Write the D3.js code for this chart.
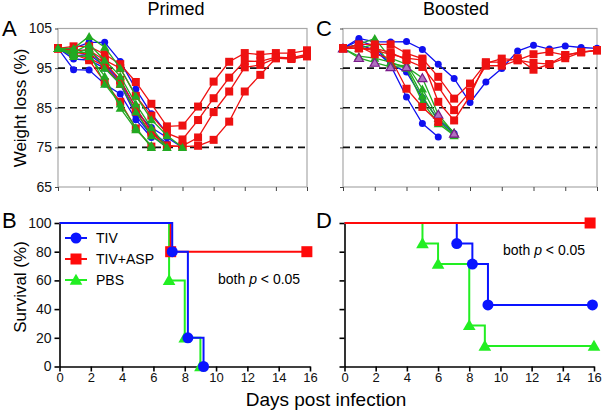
<!DOCTYPE html>
<html>
<head>
<meta charset="utf-8">
<script src="https://cdn.jsdelivr.net/npm/d3@7"></script>
<style>
  body { margin: 0; background: #fff; }
  svg { font-family: "Liberation Sans", Arial, sans-serif; }
</style>
</head>
<body>
<svg id="chart" width="602" height="413"></svg>
<script>
// weight curves (% of starting weight), one array per mouse, index = day
const days = d3.range(0, 17);

const primedTIV = [
  [100, 94.6, 94.5, 91, 88.5, 82, 77.5],
  [100, 97.3, 97, 95, 91, 83, 78, 75],
  [100, 100, 101.5, 101.5, 96.7, 89.7, 83.5, 78.6],
  [100, 99.5, 99.5, 96, 92, 85, 79, 76],
  [100, 98, 98.5, 95.5, 91.5, 84, 80, 77.5, 75]
];
const primedASP = [
  [100, 100.5, 100.5, 98.5, 96, 91.5, 86, 80.3, 80.5, 85.3, 91.6, 96.6, 98.8, 98.4, 98.8, 98.8, 99.5],
  [100, 99.5, 99.5, 97, 95, 88, 83, 78.6, 77, 81.9, 87.4, 92.6, 96.8, 96.7, 97.8, 97.6, 98.5],
  [100, 99, 98.5, 96.5, 92, 85, 79, 75.2, 75.4, 77.5, 83.9, 89.1, 95.2, 95.8, 97.5, 97.3, 98],
  [100, 98.5, 97.5, 95.5, 91, 84, 78.5, 75.5, 75.2, 75.4, 76.9, 81.5, 89.1, 93.3, 97.5, 97.5, 98],
  [100, 98.5, 97, 91.5, 86.5, 79.8, 75.2]
];
const primedPBS = [
  [100, 100, 103, 100.3, 95, 88, 82, 78, 75],
  [100, 99, 101, 97, 93, 86, 80, 75],
  [100, 98, 98, 93, 84.9, 79.5, 75.5],
  [100, 99, 99, 91, 86, 80, 75],
  [100, 98.5, 100, 95, 91, 84, 78, 75]
];

const boostedTIV = [
  [100, 102.5, 101.6, 101.6, 101.7, 99.7, 96, 92.4, 86.3, 91.5, 94.9, 99.3, 100.8, 99.8, 100.6, 100.2, 100],
  [100, 102, 100.5, 95.7, 87.7, 81, 77.6],
  [100, 101, 99.5, 96, 94, 87.5, 82, 78.5]
];
const boostedASP = [
  [100, 101, 101, 101, 98.7, 97.4, 92.8, 87.3, 91.1, 96.2, 97.4, 97, 98.5, 99.1, 98.3, 99.1, 99.5],
  [100, 100, 100, 99, 97, 95.3, 90.3, 84.4, 89, 95.6, 95.6, 97, 96.3, 96, 97.5, 99, 99.5],
  [100, 100, 99.5, 98.5, 97.5, 97, 86.5, 81.8, 88, 96.5, 96.5, 97.5, 94.6, 96, 98.3, 99, 99.5],
  [100, 100.5, 98.5, 97.5, 89.8, 85.2, 81.4]
];
const boostedPBS = [
  [100, 101, 102.5, 97.5, 96, 89.8, 82.3, 78.8],
  [100, 100, 101, 96, 95.5, 88, 81.5, 78.2],
  [100, 98, 97.5, 96.5, 95, 86.5, 81, 78]
];
const boostedPBSmarked = [100, 97.6, 96.4, 95.3, 95.3, 92.5, 83.3, 78.5];

// survival (%), [day, value] at each step
const survPrimedTIV = [[0, 100], [7.2, 80], [8.2, 20], [9.2, 0]];
const survPrimedASP = [[0, 100], [7.1, 80], [15.8, 80]];
const survPrimedPBS = [[0, 100], [7, 60], [8, 20], [9, 0]];
const survBoostTIV = [[0, 100], [7.2, 85.7], [8.2, 71.4], [9.2, 42.9], [15.9, 42.9]];
const survBoostASP = [[0, 100], [15.75, 100]];
const survBoostPBS = [[0, 100], [5, 85.7], [6, 71.4], [8, 28.6], [9, 14.3], [16, 14.3]];

const weightTicks = [65, 75, 85, 95, 105];
const dashedLevels = [75, 85, 95];
const survTicks = [0, 20, 40, 60, 80, 100];
const dayTicks = [0, 2, 4, 6, 8, 10, 12, 14, 16];
const legendNames = ["TIV", "TIV+ASP", "PBS"];

const svg = d3.select("#chart");

const colTop = { blue: "#1010f0", red: "#ee1111", green: "#22aa22" };
const colBot = { blue: "#0a14ff", red: "#ff0a0a", green: "#22ee22" };

const yW = d3.scaleLinear().domain([65, 105]).range([187, 28.5]);
const xA = d3.scaleLinear().domain([0, 16]).range([58, 307]);
const xC = d3.scaleLinear().domain([0, 16]).range([343, 597]);
const yS = d3.scaleLinear().domain([0, 100]).range([366.5, 223]);
const xB = d3.scaleLinear().domain([0, 16]).range([59.5, 310]);
const xD = d3.scaleLinear().domain([0, 16]).range([344.5, 594]);

function marker(g, type, x, y, size, fill, stroke) {
  if (type === "circle") {
    g.append("circle").attr("cx", x).attr("cy", y).attr("r", size / 2).attr("fill", fill);
  } else if (type === "square") {
    g.append("rect").attr("x", x - size / 2).attr("y", y - size / 2)
      .attr("width", size).attr("height", size).attr("fill", fill);
  } else {
    const s = size * 1.15;
    const sym = d3.symbol().type(d3.symbolTriangle).size(s * s * 0.433);
    g.append("path").attr("transform", `translate(${x},${y + 1})`).attr("d", sym())
      .attr("fill", fill).attr("stroke", stroke || "none").attr("stroke-width", 1.2);
  }
}

function weightPanel(x, showLabels, groups) {
  const g = svg.append("g");
  g.append("rect").attr("x", x(0)).attr("y", yW(105))
    .attr("width", x(16) - x(0)).attr("height", yW(65) - yW(105))
    .attr("fill", "none").attr("stroke", "#a8a8a8").attr("stroke-width", 1.2);

  g.selectAll(".dash").data(dashedLevels).join("line")
    .attr("x1", x(0)).attr("x2", x(16))
    .attr("y1", d => yW(d)).attr("y2", d => yW(d))
    .attr("stroke", "#111").attr("stroke-width", 1.6).attr("stroke-dasharray", "7,5");

  const xAxis = g.append("g").attr("transform", `translate(0,${yW(65)})`)
    .call(d3.axisBottom(x).tickValues(dayTicks).tickSize(4).tickFormat(""));
  xAxis.select(".domain").remove();
  xAxis.selectAll("line").attr("stroke", "#444");

  const yAxis = g.append("g").attr("transform", `translate(${x(0)},0)`)
    .call(d3.axisLeft(yW).tickValues(weightTicks).tickSize(3).tickFormat(showLabels ? d3.format("d") : ""));
  yAxis.select(".domain").remove();
  yAxis.selectAll("line").attr("stroke", "#444");
  yAxis.selectAll("text").attr("font-size", 14).attr("fill", "#111")
    .attr("font-family", "Liberation Sans, Arial, sans-serif");

  const line = d3.line().x((d, i) => x(i)).y(d => yW(d));
  groups.forEach(gr => {
    gr.data.forEach(series => {
      g.append("path").attr("d", line(series)).attr("fill", "none")
        .attr("stroke", gr.color).attr("stroke-width", 1.3);
      series.forEach((v, i) => marker(g, gr.type, x(i), yW(v), gr.size, gr.fill || gr.color, gr.stroke));
    });
  });
}

weightPanel(xA, true, [
  { data: primedTIV, color: colTop.blue, type: "circle", size: 7 },
  { data: primedASP, color: colTop.red, type: "square", size: 8 },
  { data: primedPBS, color: colTop.green, type: "triangle", size: 8 }
]);
weightPanel(xC, false, [
  { data: boostedTIV, color: colTop.blue, type: "circle", size: 7 },
  { data: boostedPBS, color: colTop.green, type: "triangle", size: 8 },
  { data: [boostedPBSmarked], color: colTop.green, type: "triangle", size: 8, fill: "#b070c0", stroke: "#7a1a8a" },
  { data: boostedASP, color: colTop.red, type: "square", size: 8 }
]);

function survivalPanel(x, showLabels, groups) {
  const g = svg.append("g");
  const xAxis = g.append("g").attr("transform", `translate(0,${yS(0)})`)
    .call(d3.axisBottom(x).tickValues(dayTicks).tickSize(5).tickSizeOuter(0));
  xAxis.selectAll("text").attr("font-size", 13).attr("fill", "#111")
    .attr("font-family", "Liberation Sans, Arial, sans-serif").attr("dy", "0.6em");
  xAxis.selectAll("line, path").attr("stroke", "#000").attr("stroke-width", 1.6);

  const yAxis = g.append("g").attr("transform", `translate(${x(0)},0)`)
    .call(d3.axisLeft(yS).tickValues(survTicks).tickSize(5).tickSizeOuter(0)
      .tickFormat(showLabels ? d3.format("d") : ""));
  yAxis.selectAll("text").attr("font-size", 14).attr("fill", "#111")
    .attr("font-family", "Liberation Sans, Arial, sans-serif");
  yAxis.selectAll("line, path").attr("stroke", "#000").attr("stroke-width", 1.6);

  const line = d3.line().x(d => x(d[0])).y(d => yS(d[1])).curve(d3.curveStepAfter);
  groups.forEach(gr => {
    g.append("path").attr("d", line(gr.data)).attr("fill", "none")
      .attr("stroke", gr.color).attr("stroke-width", 2);
  });
  groups.forEach(gr => {
    gr.data.slice(1).forEach(d => marker(g, gr.type, x(d[0]), yS(d[1]), gr.size, gr.color));
  });
}

survivalPanel(xB, true, [
  { data: survPrimedPBS, color: colBot.green, type: "triangle", size: 11 },
  { data: survPrimedASP, color: colBot.red, type: "square", size: 11 },
  { data: survPrimedTIV, color: colBot.blue, type: "circle", size: 11 }
]);
survivalPanel(xD, false, [
  { data: survBoostPBS, color: colBot.green, type: "triangle", size: 11 },
  { data: survBoostTIV, color: colBot.blue, type: "circle", size: 11 },
  { data: survBoostASP, color: colBot.red, type: "square", size: 11 }
]);

// legend in panel B
const legend = svg.append("g");
const legTypes = ["circle", "square", "triangle"];
const legCols = [colBot.blue, colBot.red, colBot.green];
legendNames.forEach((name, i) => {
  const y = 238 + i * 21;
  legend.append("line").attr("x1", 65).attr("x2", 87).attr("y1", y).attr("y2", y)
    .attr("stroke", legCols[i]).attr("stroke-width", 2);
  marker(legend, legTypes[i], 76, y, 11, legCols[i]);
  legend.append("text").attr("x", 96).attr("y", y + 5).attr("font-size", 14).text(name);
});

function pText(x, y) {
  const t = svg.append("text").attr("x", x).attr("y", y).attr("font-size", 14);
  t.append("tspan").text("both ");
  t.append("tspan").attr("font-style", "italic").text("p");
  t.append("tspan").text(" < 0.05");
}
pText(218, 284);
pText(503, 255);

// titles and labels
svg.append("text").attr("x", 176).attr("y", 15).attr("text-anchor", "middle")
  .attr("font-size", 18).text("Primed");
svg.append("text").attr("x", 456).attr("y", 15).attr("text-anchor", "middle")
  .attr("font-size", 18).text("Boosted");

[["A", 2, 36], ["C", 316, 36], ["B", 2, 228], ["D", 316, 228]].forEach(([l, x, y]) => {
  svg.append("text").attr("x", x).attr("y", y).attr("font-size", 22).text(l);
});

svg.append("text").attr("transform", "translate(26,108) rotate(-90)")
  .attr("text-anchor", "middle").attr("font-size", 17).text("Weight loss (%)");
svg.append("text").attr("transform", "translate(26,287) rotate(-90)")
  .attr("text-anchor", "middle").attr("font-size", 17).text("Survival (%)");
svg.append("text").attr("x", 326).attr("y", 406).attr("text-anchor", "middle")
  .attr("font-size", 19).text("Days post infection");
</script>
</body>
</html>
